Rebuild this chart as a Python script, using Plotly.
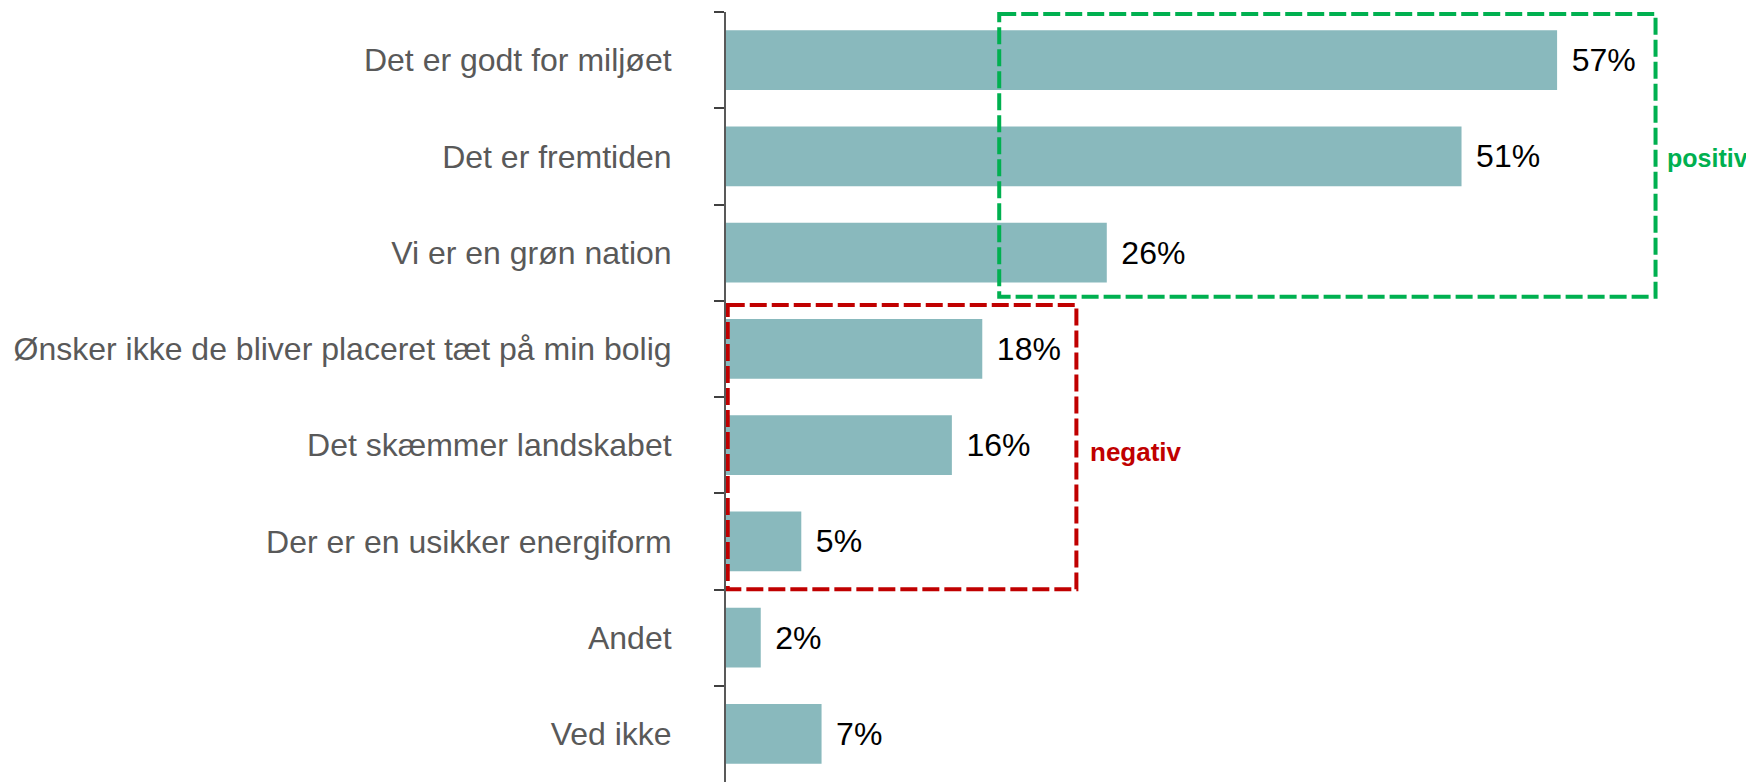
import plotly.graph_objects as go

categories = [
    "Det er godt for miljøet",
    "Det er fremtiden",
    "Vi er en grøn nation",
    "Ønsker ikke de bliver placeret tæt på min bolig",
    "Det skæmmer landskabet",
    "Der er en usikker energiform",
    "Andet",
    "Ved ikke",
]
shares = [57.4, 50.8, 26.3, 17.7, 15.6, 5.2, 2.4, 6.6]
share_labels = ["57%", "51%", "26%", "18%", "16%", "5%", "2%", "7%"]

BAR_COLOR = "#89b9bd"
GREEN = "#00b050"
RED = "#c00000"
FONT = "Liberation Sans, Arial, sans-serif"

fig = go.Figure(
    go.Bar(
        y=categories,
        x=shares,
        orientation="h",
        width=0.62,
        marker=dict(color=BAR_COLOR, line=dict(width=0)),
        text=["\u00a0\u200a" + s for s in share_labels],
        textposition="outside",
        textfont=dict(size=32, color="#000000", family=FONT),
        cliponaxis=False,
        hoverinfo="skip",
    )
)

# dashed boxes grouping positive / negative answers
fig.add_shape(
    type="rect", xref="x", yref="y",
    x0=18.87, x1=64.2, y0=-0.48, y1=2.458,
    line=dict(color=GREEN, width=4, dash="17px,5px"),
)
fig.add_shape(
    type="rect", xref="x", yref="y",
    x0=0.12, x1=24.2, y0=2.544, y1=5.498,
    line=dict(color=RED, width=4, dash="17px,5px"),
)
fig.add_annotation(
    x=64.85, y=1.02, xref="x", yref="y", text="<b>positiv</b>",
    showarrow=False, xanchor="left", yanchor="middle",
    font=dict(size=25, color=GREEN, family=FONT),
)
fig.add_annotation(
    x=25.0, y=4.07, xref="x", yref="y", text="<b>negativ</b>",
    showarrow=False, xanchor="left", yanchor="middle",
    font=dict(size=26, color=RED, family=FONT),
)

# page body adds an 8px offset, so the figure is 8px smaller and margins shifted
fig.update_layout(
    width=1746,
    height=774,
    margin=dict(l=718, r=0, t=4, b=0),
    paper_bgcolor="white",
    plot_bgcolor="white",
    showlegend=False,
    font=dict(family=FONT),
)
fig.update_xaxes(
    range=[0, 71], visible=False, showgrid=False, zeroline=False,
)
fig.update_yaxes(
    autorange="reversed", automargin=False,
    showline=True, linecolor="#595959", linewidth=2,
    ticks="outside", ticklen=10, tickcolor="#404040", tickwidth=2,
    tickson="boundaries",
    tickfont=dict(size=32, color="#595959", family=FONT),
    ticklabelstandoff=46,
    showgrid=False, zeroline=False,
)

fig.write_html("out.html")
